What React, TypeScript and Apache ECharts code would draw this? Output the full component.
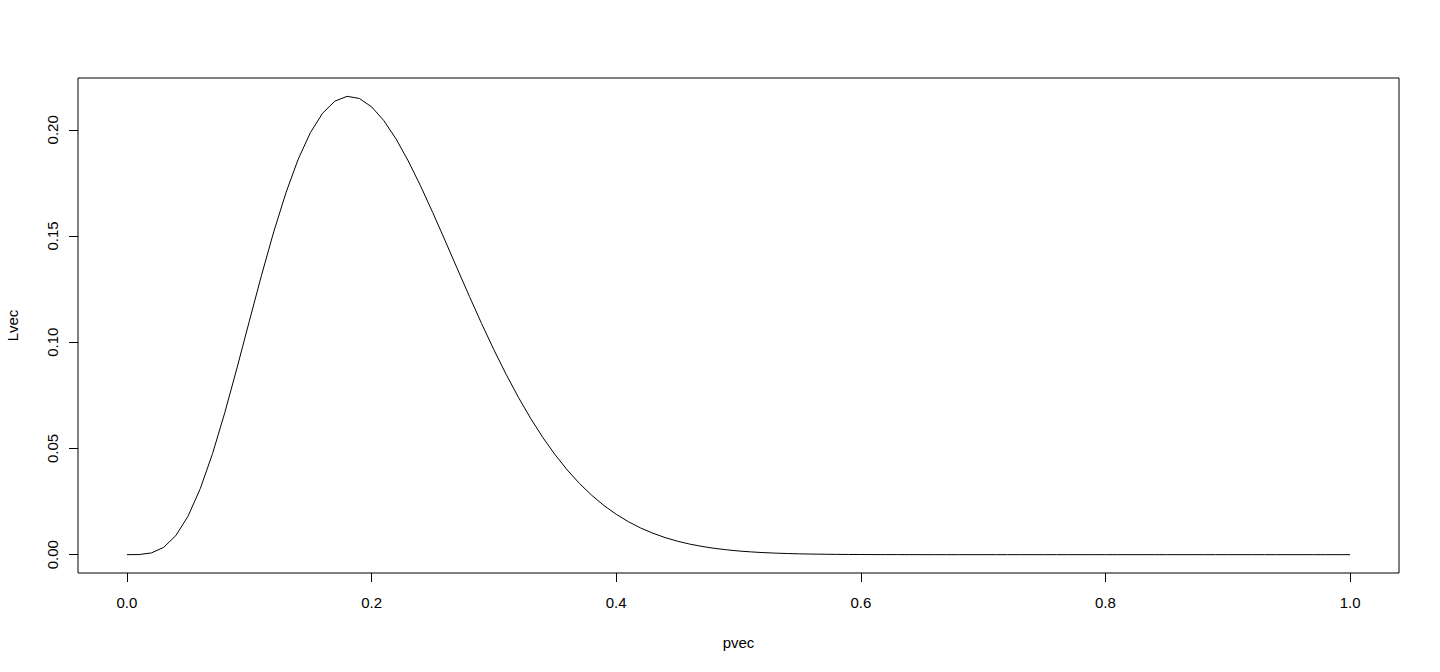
import React, { useEffect, useRef } from 'react';
import * as echarts from 'echarts';

// x values (probability grid)
const pvec = [
  0, 0.01, 0.02, 0.03, 0.04, 0.05, 0.06, 0.07, 0.08, 0.09,
  0.1, 0.11, 0.12, 0.13, 0.14, 0.15, 0.16, 0.17, 0.18, 0.19,
  0.2, 0.21, 0.22, 0.23, 0.24, 0.25, 0.26, 0.27, 0.28, 0.29,
  0.3, 0.31, 0.32, 0.33, 0.34, 0.35, 0.36, 0.37, 0.38, 0.39,
  0.4, 0.41, 0.42, 0.43, 0.44, 0.45, 0.46, 0.47, 0.48, 0.49,
  0.5, 0.51, 0.52, 0.53, 0.54, 0.55, 0.56, 0.57, 0.58, 0.59,
  0.6, 0.61, 0.62, 0.63, 0.64, 0.65, 0.66, 0.67, 0.68, 0.69,
  0.7, 0.71, 0.72, 0.73, 0.74, 0.75, 0.76, 0.77, 0.78, 0.79,
  0.8, 0.81, 0.82, 0.83, 0.84, 0.85, 0.86, 0.87, 0.88, 0.89,
  0.9, 0.91, 0.92, 0.93, 0.94, 0.95, 0.96, 0.97, 0.98, 0.99,
  1
];

// likelihood values
const Lvec = [
  0, 0.00006, 0.00081, 0.00343, 0.00898, 0.01816, 0.03112, 0.04757, 0.0668, 0.0879,
  0.10979, 0.13146, 0.15193, 0.17034, 0.18612, 0.19868, 0.20784, 0.21351, 0.21576, 0.21476,
  0.21084, 0.20435, 0.19573, 0.18533, 0.17366, 0.16109, 0.14801, 0.13473, 0.12157, 0.10876,
  0.09649, 0.08491, 0.07413, 0.06421, 0.0552, 0.04709, 0.03987, 0.03351, 0.02795, 0.02314,
  0.01902, 0.01551, 0.01256, 0.01009, 0.00804, 0.00636, 0.00499, 0.00389, 0.003, 0.0023,
  0.00174, 0.00131, 0.00098, 0.00072, 0.00053, 0.00038, 0.00028, 0.0002, 0.00014, 0.0001,
  0.00007, 0.00004, 0.00003, 0.00002, 0.00001, 0, 0, 0, 0, 0,
  0, 0, 0, 0, 0, 0, 0, 0, 0, 0,
  0, 0, 0, 0, 0, 0, 0, 0, 0, 0,
  0, 0, 0, 0, 0, 0, 0, 0, 0, 0,
  0
];

const xTicks = [0, 0.2, 0.4, 0.6, 0.8, 1.0];
const yTicks = [0, 0.05, 0.1, 0.15, 0.2];

const FONT = '"Liberation Sans", Arial, sans-serif';

const App: React.FC = () => {
  const chartRef = useRef<HTMLDivElement>(null);

  useEffect(() => {
    if (!chartRef.current) return;
    const chart = echarts.init(chartRef.current, undefined, { renderer: 'svg' });

    // R-style 4% padding on both axes
    const xMin = -0.04;
    const xMax = 1.04;
    const yTop = Math.max(...Lvec);
    const yMin = -0.04 * yTop;
    const yMax = yTop * 1.04;

    const option: any = {
      animation: false,
      backgroundColor: '#fff',
      grid: {
        left: 78,
        right: 41,
        top: 78,
        bottom: 99,
        show: true,
        borderColor: '#000',
        borderWidth: 1,
        backgroundColor: 'transparent',
        containLabel: false,
        outerBoundsMode: 'none'
      },
      xAxis: {
        type: 'value',
        min: xMin,
        max: xMax,
        name: 'pvec',
        nameLocation: 'middle',
        nameGap: 62,
        nameTextStyle: { color: '#000', fontSize: 15, fontFamily: FONT },
        axisLine: { show: false, onZero: false },
        splitLine: { show: false },
        axisTick: {
          show: true,
          inside: false,
          length: 9,
          customValues: xTicks,
          lineStyle: { color: '#000', width: 1 }
        },
        axisLabel: {
          customValues: xTicks,
          margin: 22,
          color: '#000',
          fontSize: 15,
          fontFamily: FONT,
          formatter: (v: number) => v.toFixed(1)
        }
      },
      yAxis: {
        type: 'value',
        min: yMin,
        max: yMax,
        name: 'Lvec',
        nameLocation: 'middle',
        nameGap: 58,
        nameRotate: 90,
        nameTextStyle: { color: '#000', fontSize: 15, fontFamily: FONT },
        axisLine: { show: false, onZero: false },
        splitLine: { show: false },
        axisTick: {
          show: true,
          inside: false,
          length: 9,
          customValues: yTicks,
          lineStyle: { color: '#000', width: 1 }
        },
        axisLabel: {
          customValues: yTicks,
          rotate: 90,
          margin: 18,
          color: '#000',
          fontSize: 15,
          fontFamily: FONT,
          formatter: (v: number) => v.toFixed(2)
        }
      },
      series: [
        {
          type: 'line',
          data: pvec.map((p, i) => [p, Lvec[i]]),
          showSymbol: false,
          silent: true,
          lineStyle: { color: '#000', width: 1 },
          itemStyle: { color: '#000' }
        }
      ]
    };

    chart.setOption(option);

    return () => {
      chart.dispose();
    };
  }, []);

  return (
    <div
      ref={chartRef}
      style={{ position: 'absolute', left: 0, top: 0, width: 1440, height: 672 }}
    />
  );
};

export default App;
